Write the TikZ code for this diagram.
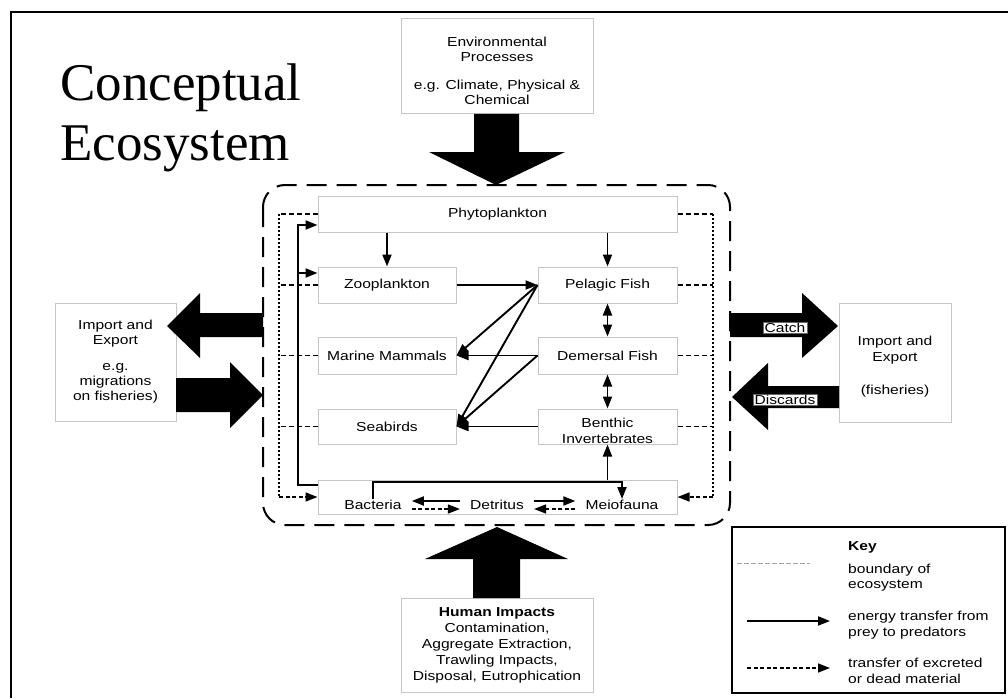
\documentclass[tikz,border=0pt]{standalone}
\usepackage{fontspec}
\setmainfont{Liberation Serif}
\newfontfamily\dsf[FakeStretch=1.2]{Liberation Sans}
\usetikzlibrary{arrows.meta}
\begin{document}
\begin{tikzpicture}[x=1pt,y=-1pt,
  txt/.style={font=\dsf\fontsize{13}{15}\selectfont, align=center, inner sep=0pt},
  box/.style={draw=gray!45, line width=1pt, inner sep=0pt},
  flow/.style={line width=1.9pt, -{Triangle[length=12pt,width=9pt]}},
  dflow/.style={line width=1.9pt, {Triangle[length=12pt,width=9pt]}-{Triangle[length=12pt,width=9pt]}},
  dead/.style={line width=1.5pt, dash pattern=on 5pt off 3pt},
  deadv/.style={line width=1.5pt, dash pattern=on 2pt off 2pt},
  deadarrow/.style={line width=1.5pt, dash pattern=on 4pt off 2.5pt, -{Triangle[length=12pt,width=9pt]}},
  bigarrow/.style={fill=black, draw=none},
  lbl/.style={txt, fill=white, draw=black!60, line width=0.6pt, inner xsep=1.5pt, inner ysep=1pt}
]
\useasboundingbox (0,0) rectangle (1008,698);
\fill[white] (0,0) rectangle (1008,698);
% outer frame
\draw[line width=2pt] (11,698) -- (11,12) -- (1008,12);
% title
\node[anchor=base west, inner sep=0pt, font=\fontsize{53}{60}\selectfont] (t1) at (60,100) {Conceptual};
\node[anchor=base west, inner sep=0pt, font=\fontsize{53}{60}\selectfont] (t2) at (60,160) {Ecosystem};

% ecosystem boundary
\draw[line width=2pt, dash pattern=on 20pt off 10pt, rounded corners=22pt] (263,185) rectangle (730,525);

% environmental processes
\node[box, minimum width=192pt, minimum height=95pt] (env) at (497,66.5) {};
\node[txt] (envt) at (497,71) {Environmental\\Processes\\[13pt]e.g. Climate, Physical \&\\Chemical};
\fill[bigarrow] (474,114) -- (519,114) -- (519,152) -- (565,152) -- (496,185) -- (429,152) -- (474,152) -- cycle;

% human impacts
\node[box, minimum width=192pt, minimum height=94pt, txt, font=\dsf\fontsize{13}{16}\selectfont] (hum) at (497,645)
  {\textbf{Human Impacts}\\Contamination,\\Aggregate Extraction,\\Trawling Impacts,\\Disposal, Eutrophication};
\fill[bigarrow] (473,598) -- (520,598) -- (520,559) -- (568,559) -- (497,527) -- (425,559) -- (473,559) -- cycle;

% left import/export
\node[box, minimum width=121pt, minimum height=118pt] (limp) at (115.5,362) {};
\node[txt] (limpt) at (115.5,362) {Import and\\Export\\[11pt]e.g.\\migrations\\on fisheries)};
\fill[bigarrow] (263,313) -- (200,313) -- (200,293) -- (167,326) -- (200,358) -- (200,337) -- (263,337) -- cycle;
\fill[bigarrow] (176,378) -- (230,378) -- (230,362) -- (263,395) -- (230,428) -- (230,412) -- (176,412) -- cycle;

% right import/export
\node[box, minimum width=112pt, minimum height=119pt] (rimp) at (895,362.5) {};
\node[txt, font=\dsf\fontsize{13}{16}\selectfont] (rimpt) at (895,366.5) {Import and\\Export\\[17pt](fisheries)};
\fill[bigarrow] (730,313) -- (802,313) -- (802,293) -- (838,326) -- (802,358) -- (802,337) -- (730,337) -- cycle;
\fill[bigarrow] (839,386) -- (768,386) -- (768,363) -- (732,397) -- (768,430) -- (768,408) -- (839,408) -- cycle;
\node[lbl] (catch) at (785,328) {Catch};
\node[lbl] (disc) at (785,400) {Discards};

% ecosystem compartments
\node[box, txt, minimum width=359pt, minimum height=36pt] (phy) at (497.5,214) {Phytoplankton};
\node[box, txt, minimum width=138pt, minimum height=36pt] (zoo) at (387,285) {Zooplankton};
\node[box, txt, minimum width=139pt, minimum height=36pt] (pel) at (607.5,285) {Pelagic Fish};
\node[box, txt, minimum width=138pt, minimum height=37pt] (mm) at (387,355.5) {Marine Mammals};
\node[box, txt, minimum width=139pt, minimum height=37pt] (dem) at (607.5,355.5) {Demersal Fish};
\node[box, txt, minimum width=138pt, minimum height=35pt] (sea) at (387,426.5) {Seabirds};
\node[box, minimum width=139pt, minimum height=35pt] (ben) at (607.5,426.5) {};
\node[txt, font=\dsf\fontsize{13}{16}\selectfont] (bent) at (607.5,431) {Benthic\\Invertebrates};
\node[box, minimum width=359pt, minimum height=34pt] (bot) at (497.5,497) {};
\node[txt, inner xsep=10pt, inner ysep=1pt] (bac) at (373,505) {Bacteria};
\node[txt, inner xsep=10pt, inner ysep=1pt] (det) at (497,505) {Detritus};
\node[txt, inner xsep=10pt, inner ysep=1pt] (mei) at (622,505) {Meiofauna};

% food web
\draw[flow] (phy.south -| zoo) -- (zoo.north);
\draw[flow] (phy.south -| pel) -- (pel.north);
\draw[flow] (zoo.east) -- (pel.west);
\draw[dflow] (pel.south) -- (dem.north);
\draw[dflow] (dem.south) -- (ben.north);
\draw[flow] (pel.west) -- (mm.east);
\draw[flow] (pel.west) -- (sea.east);
\draw[flow] (dem.west) -- (mm.east);
\draw[flow] (dem.west) -- (sea.east);
\draw[flow] (ben.west) -- (sea.east);
\draw[flow] (bot.north -| ben) -- (ben.south);
\coordinate (bm) at (497,482);
\draw[flow] (bac.north) |- (bm) -| (mei.north);
\draw[flow] ([yshift=4pt]det.west) -- ([yshift=4pt]bac.east);
\draw[flow] ([yshift=4pt]det.east) -- ([yshift=4pt]mei.west);
\draw[deadarrow] ([yshift=-4pt]bac.east) -- ([yshift=-4pt]det.west);
\draw[deadarrow] ([yshift=-4pt]mei.west) -- ([yshift=-4pt]det.east);

% recycling to primary producers
\coordinate (sx) at (298,0);
\coordinate (lb) at (298,273);
\draw[line width=1.9pt] ([yshift=12pt]bot.west) -| (sx |- lb);
\draw[flow] (lb) |- ([yshift=-11pt]phy.west);
\draw[flow] (lb) -- ([yshift=12pt]zoo.west);

% dead material, left
\coordinate (L) at (279,0);
\draw[dead] (phy.west) -- (phy.west -| L);
\draw[dead] (zoo.west) -- (zoo.west -| L);
\draw[dead] (mm.west) -- (mm.west -| L);
\draw[dead] (sea.west) -- (sea.west -| L);
\draw[deadv] (phy.west -| L) -- (bot.west -| L);
\draw[deadarrow] (bot.west -| L) -- (bot.west);
% dead material, right
\coordinate (R) at (713,0);
\draw[dead] (phy.east) -- (phy.east -| R);
\draw[dead] (pel.east) -- (pel.east -| R);
\draw[dead] (dem.east) -- (dem.east -| R);
\draw[dead] (ben.east) -- (ben.east -| R);
\draw[deadv] (phy.east -| R) -- (bot.east -| R);
\draw[deadarrow] (bot.east -| R) -- (bot.east);

% key
\draw[line width=1.5pt] (732,527) rectangle (1005,693);
\node[txt, anchor=west, font=\dsf\bfseries\fontsize{13}{15}\selectfont] (keyt) at (848,547) {Key};
\coordinate (k1a) at (737,563); \coordinate (k1b) at (810,563);
\draw[line width=1pt, gray!70, dash pattern=on 5pt off 2pt] (k1a) -- (k1b);
\node[txt, anchor=west, align=left] (k1) at (848,577.5) {boundary of\\ecosystem};
\coordinate (k2a) at (747,621); \coordinate (k2b) at (830,621);
\draw[flow] (k2a) -- (k2b);
\node[txt, anchor=west, align=left, font=\dsf\fontsize{13}{16}\selectfont] (k2) at (848,625) {energy transfer from\\prey to predators};
\coordinate (k3a) at (747,668); \coordinate (k3b) at (830,668);
\draw[deadarrow] (k3a) -- (k3b);
\node[txt, anchor=west, align=left, font=\dsf\fontsize{13}{16}\selectfont] (k3) at (848,671) {transfer of excreted\\or dead material};
\end{tikzpicture}
\end{document}
